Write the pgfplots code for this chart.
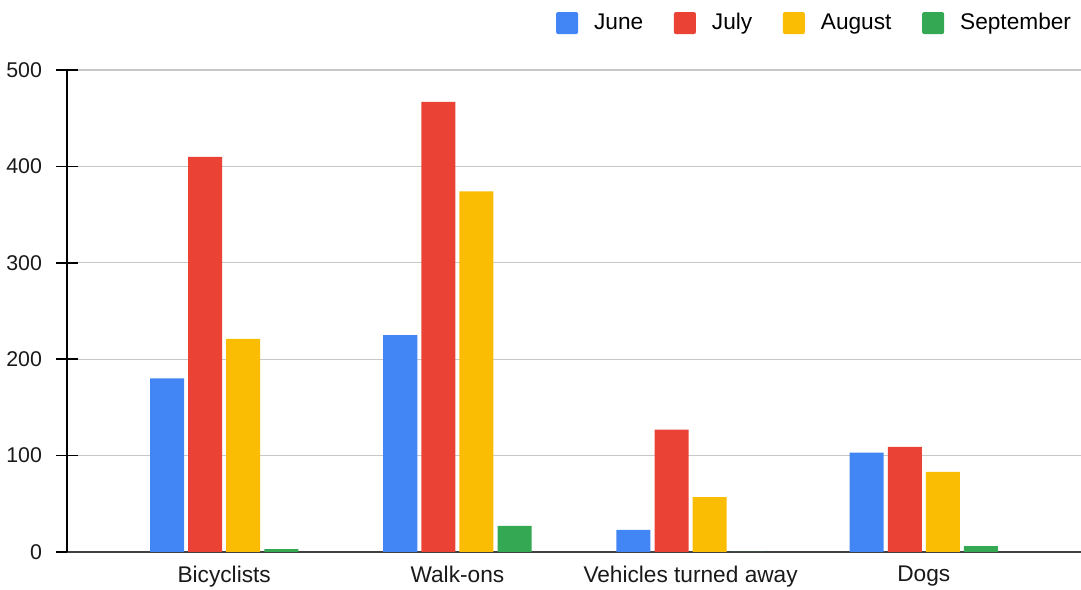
\documentclass[border=0pt]{standalone}
\usepackage{pgfplots}
\pgfplotsset{compat=1.18}
\usetikzlibrary{calc}
\usepackage{fontspec}
\setmainfont{Liberation Sans}
\definecolor{gjune}{HTML}{4285F4}
\definecolor{gjuly}{HTML}{EA4335}
\definecolor{gaug}{HTML}{FBBC04}
\definecolor{gsep}{HTML}{34A853}
\begin{document}
\begin{tikzpicture}[x=1pt,y=1pt]
\begin{axis}[
    scale only axis,
    width=760.5pt, height=361.5pt,
    xmin=-0.674, xmax=3.674,
    ymin=0, ymax=500,
    ytick={0,100,...,500},
    xtick={0,1,2,3},
    xticklabels={Bicyclists, Walk-ons, Vehicles turned away, Dogs},
    axis lines=left,
    axis line style={-},
    x axis line style={draw=black!75, line width=0.9pt},
    y axis line style={draw=black, line width=1.1pt},
    xtick style={draw=none},
    ytick style={draw=black, line width=1.1pt},
    tick align=center,
    major tick length=16.5pt,
    ymajorgrids,
    grid style={draw=black!22, line width=0.8pt},
    font=\fontsize{16}{19}\selectfont,
    yticklabel style={font=\fontsize{16}{19}\selectfont, text=black!90, xshift=-7pt},
    xticklabel style={font=\fontsize{17}{20}\selectfont, text=black!90, yshift=9.5pt},
    /pgf/number format/assume math mode=true,
    ybar, bar width=0.146,
    legend columns=4,
    legend style={draw=none, fill=none, at={(rel axis cs:0.997,1)}, anchor=south east,
        yshift=23pt, font=\fontsize{17}{20}\selectfont,
        nodes={text height=12.5pt, text depth=3.5pt},
        /tikz/every odd column/.append style={column sep=10pt},
        /tikz/every even column/.append style={column sep=21pt}},
    legend image code/.code={\fill[#1, rounded corners=1.5pt] (0pt,-8.25pt) rectangle (16.5pt,8.25pt);},
    legend cell align=left,
]
\addplot[draw=none, fill=gjune, bar shift=-0.245] coordinates {(0,180) (1,225) (2,23) (3,103)};
\addplot[draw=none, fill=gjuly, bar shift=-0.0815] coordinates {(0,410) (1,467) (2,127) (3,109)};
\addplot[draw=none, fill=gaug, bar shift=0.0815] coordinates {(0,221) (1,374) (2,57) (3,83)};
\addplot[draw=none, fill=gsep, bar shift=0.245] coordinates {(0,3) (1,27) (2,0) (3,6)};
\legend{June, July, August, September}
\path (rel axis cs:0,0) coordinate (sw) (rel axis cs:1,1) coordinate (ne);
\end{axis}
\pgfresetboundingbox
\path[use as bounding box] ($(sw)+(-50.25pt,-28.5pt)$) rectangle ($(ne)+(0pt,52.5pt)$);
\end{tikzpicture}
\end{document}
